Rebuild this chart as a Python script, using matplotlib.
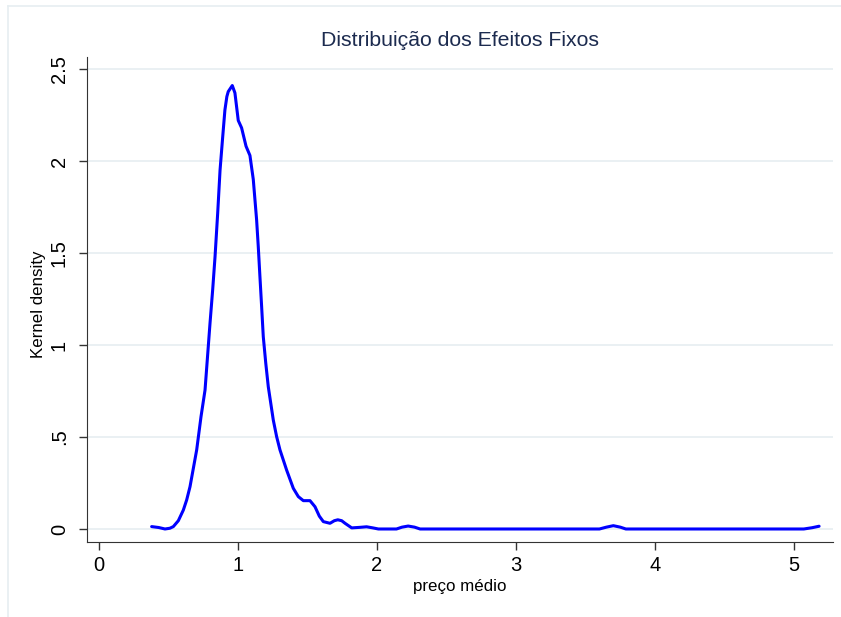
import numpy as np
import matplotlib.pyplot as plt
from matplotlib.lines import Line2D

# Kernel density curve
preco = [0.379, 0.430, 0.475, 0.510, 0.535, 0.571, 0.607, 0.631, 0.655, 0.703,
         0.734, 0.763, 0.799, 0.818, 0.835, 0.854, 0.871, 0.890, 0.906, 0.920,
         0.930, 0.959, 0.978, 1.002, 1.026, 1.058, 1.086, 1.110, 1.134, 1.146,
         1.158, 1.170, 1.182, 1.200, 1.218, 1.254, 1.278, 1.302, 1.350, 1.398,
         1.434, 1.470, 1.518, 1.554, 1.585, 1.614, 1.662, 1.693, 1.718, 1.746,
         1.770, 1.818, 1.878, 1.925, 1.970, 2.010, 2.140, 2.180, 2.224, 2.270,
         2.310, 3.600, 3.650, 3.700, 3.750, 3.790, 5.070, 5.130, 5.180]
densidade = [0.013, 0.008, 0.000, 0.004, 0.013, 0.045, 0.103, 0.158, 0.230, 0.430,
             0.610, 0.755, 1.120, 1.300, 1.480, 1.716, 1.950, 2.130, 2.277, 2.350,
             2.377, 2.410, 2.370, 2.220, 2.180, 2.080, 2.030, 1.900, 1.680, 1.534,
             1.370, 1.210, 1.045, 0.900, 0.773, 0.592, 0.502, 0.430, 0.320, 0.221,
             0.176, 0.154, 0.154, 0.121, 0.070, 0.040, 0.031, 0.045, 0.050, 0.045,
             0.031, 0.006, 0.009, 0.012, 0.006, 0.000, 0.000, 0.010, 0.016, 0.010,
             0.000, 0.000, 0.010, 0.018, 0.010, 0.000, 0.000, 0.007, 0.015]

x_ticks = [0, 1, 2, 3, 4, 5]
y_ticks = [0, 0.5, 1, 1.5, 2, 2.5]
y_labels = ["0", ".5", "1", "1.5", "2", "2.5"]

plt.rcParams['font.family'] = ['Liberation Sans', 'DejaVu Sans']

fig = plt.figure(figsize=(8.41, 6.17), dpi=100)
ax = fig.add_axes([87 / 841, 1 - 542 / 617, (833 - 87) / 841, (542 - 57) / 617])

ax.plot(preco, densidade, color='#0000ff', linewidth=2.2,
        solid_joinstyle='round', solid_capstyle='round')

ax.set_xlim(-0.086, 5.28)
ax.set_ylim(-0.0707, 2.565)
ax.set_xticks(x_ticks)
ax.set_yticks(y_ticks)
ax.set_yticklabels(y_labels, rotation=90, va='center')
ax.tick_params(axis='both', direction='out', length=6, width=1, labelsize=14.5, color='#333333')
ax.tick_params(axis='x', pad=4)
ax.tick_params(axis='y', pad=7)

ax.grid(axis='y', color='#e6eef1', linewidth=1.2)
ax.set_axisbelow(True)
for side in ['top', 'right']:
    ax.spines[side].set_visible(False)
ax.spines['left'].set_color('#333333')
ax.spines['bottom'].set_color('#333333')

ax.set_xlabel("preço médio", fontsize=12.2)
ax.set_ylabel("Kernel density", fontsize=12.2)
ax.xaxis.set_label_coords(0.5, -0.076)
ax.yaxis.set_label_coords(-0.055, 0.49)
ax.set_title("Distribuição dos Efeitos Fixos", fontsize=15.3, color='#1c2b4f', pad=8)

# faint outer frame of the graph region
fig.add_artist(Line2D([8 / 841, 8 / 841], [0, 1 - 6 / 617], color='#e6eef1', linewidth=1.2))
fig.add_artist(Line2D([8 / 841, 1], [1 - 6 / 617, 1 - 6 / 617], color='#e6eef1', linewidth=1.2))

fig.savefig("out.png", dpi=100)
